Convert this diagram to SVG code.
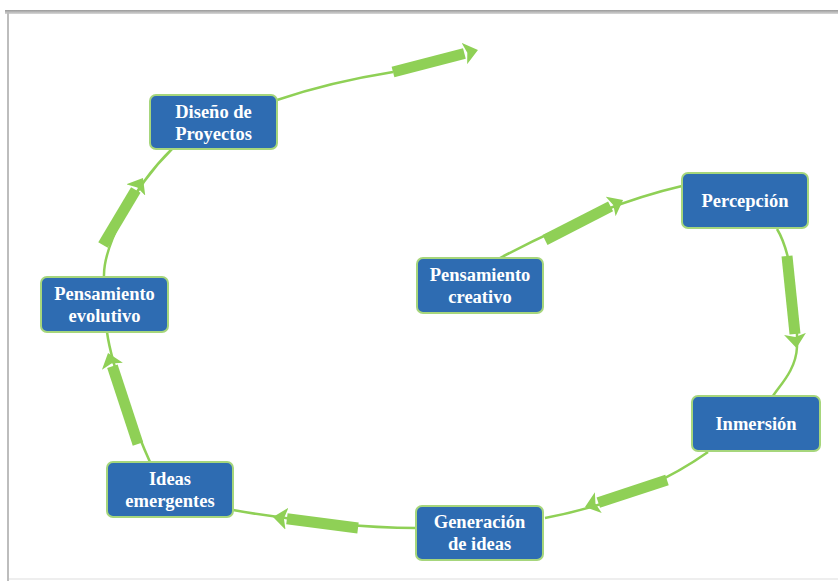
<svg xmlns="http://www.w3.org/2000/svg" width="838" height="581" viewBox="0 0 838 581">
<defs>
<style>
.node rect{fill:#2e6cb2;stroke:#a6d67c;stroke-width:2}
.node text{font-family:"Liberation Serif","Times New Roman",serif;font-weight:bold;font-size:18.5px;fill:#ffffff;text-anchor:middle}
.thin{fill:none;stroke:#8fd056;stroke-width:2.5}
.thick{fill:none;stroke:#8fd056;stroke-width:11;marker-end:url(#ah)}
</style>
<marker id="ah" markerUnits="userSpaceOnUse" viewBox="0 0 14 22" refX="0" refY="11" markerWidth="14" markerHeight="22" orient="auto">
<path d="M0,0 L14,11 L0,22 L3,11 Z" fill="#8fd056"/>
</marker>
<linearGradient id="tb" x1="0" y1="0" x2="0" y2="1">
<stop offset="0" stop-color="#9a9a9a"/>
<stop offset="1" stop-color="#d8d8d8"/>
</linearGradient>
</defs>
<rect width="838" height="581" fill="#ffffff"/>
<rect x="5" y="10" width="833" height="4" fill="url(#tb)"/>
<rect x="7" y="12" width="2" height="569" fill="#bdbdbd"/>
<rect x="9" y="578" width="829" height="2" fill="#eeeeee"/>

<g id="connectors">
<path class="thin" d="M500,258 Q600,205 682,186"/>
<path class="thick" d="M545,240 L610.6,206.4"/>
<path class="thin" d="M777,229 C790,250 798,300 797,347 C796,370 780,385 773,396"/>
<path class="thick" d="M787,256 L795,334"/>
<path class="thin" d="M708,452 Q640,500 545,518"/>
<path class="thick" d="M667,480 L598.3,502.6"/>
<path class="thin" d="M416,528 C370,528 300,522 233,510"/>
<path class="thick" d="M358,528 L286.9,518.8"/>
<path class="thin" d="M150,462 C140,440 112,370 107,332"/>
<path class="thick" d="M138,444 L112.4,366.3"/>
<path class="thin" d="M104,277 C103,250 130,190 172,149"/>
<path class="thick" d="M103,245 L135.8,190"/>
<path class="thin" d="M277,100 Q330,82 393,72"/>
<path class="thick" d="M393,72 L464.4,53.5"/>
</g>

<g id="diseno" class="node">
<rect x="150" y="95" width="127" height="54" rx="6"/>
<text x="213.5" y="118">Diseño de</text>
<text x="213.5" y="140">Proyectos</text>
</g>
<g id="percepcion" class="node">
<rect x="682" y="173" width="126" height="55" rx="6"/>
<text x="745" y="207">Percepción</text>
</g>
<g id="creativo" class="node">
<rect x="417" y="258" width="126" height="55" rx="6"/>
<text x="480" y="281">Pensamiento</text>
<text x="480" y="303">creativo</text>
</g>
<g id="evolutivo" class="node">
<rect x="41" y="277" width="127" height="55" rx="6"/>
<text x="104.5" y="300">Pensamiento</text>
<text x="104.5" y="322">evolutivo</text>
</g>
<g id="inmersion" class="node">
<rect x="692" y="396" width="128" height="55" rx="6"/>
<text x="756" y="430">Inmersión</text>
</g>
<g id="ideas" class="node">
<rect x="107" y="462" width="126" height="55" rx="6"/>
<text x="170" y="485">Ideas</text>
<text x="170" y="507">emergentes</text>
</g>
<g id="generacion" class="node">
<rect x="416" y="506" width="127" height="54" rx="6"/>
<text x="479.5" y="528">Generación</text>
<text x="479.5" y="550">de ideas</text>
</g>
</svg>
